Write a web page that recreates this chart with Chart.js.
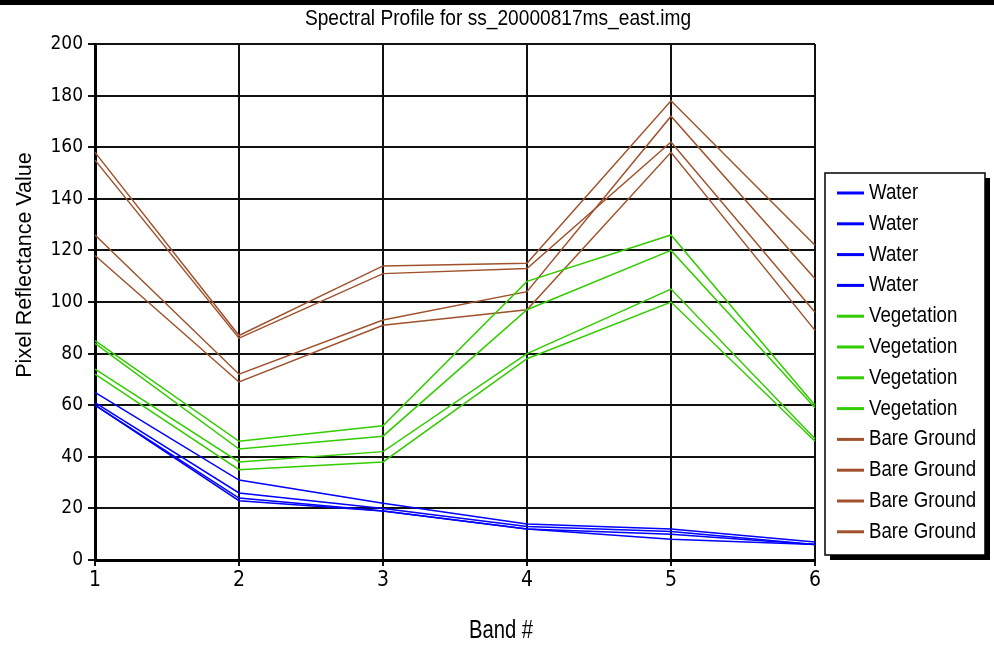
<!DOCTYPE html>
<html>
<head>
<meta charset="utf-8">
<script src="https://cdn.jsdelivr.net/npm/chart.js@4"></script>
<style>
  html, body { margin: 0; padding: 0; background: #fff; }
  #wrap { width: 994px; height: 655px; position: relative; }
</style>
</head>
<body>
<div id="wrap"><canvas id="myChart" width="994" height="655"></canvas></div>
<script>
'use strict';

// band numbers on the x axis
const bands = ['1', '2', '3', '4', '5', '6'];

// pixel values
const water1 = [65, 31, 22, 14, 12, 7];
const water2 = [61, 26, 20, 13, 11, 6];
const water3 = [60, 24, 19, 12, 10, 6];
const water4 = [60, 23, 19, 12, 8, 6];

const veg1 = [85, 46, 52, 108, 126, 60];
const veg2 = [84, 43, 48, 97, 120, 59];
const veg3 = [74, 38, 42, 80, 105, 47];
const veg4 = [72, 35, 38, 78, 100, 46];

const bare1 = [158, 87, 114, 115, 178, 122];
const bare2 = [155, 86, 111, 113, 162, 96];
const bare3 = [126, 72, 93, 104, 172, 109];
const bare4 = [118, 69, 91, 97, 158, 89];

const chartTitle = 'Spectral Profile for ss_20000817ms_east.img';
const xTitle = 'Band #';
const yTitle = 'Pixel Reflectance Value';

const SANS = "'Liberation Sans', Arial, sans-serif";
const COND = "'DejaVu Sans Condensed', 'Liberation Sans', sans-serif";
const BLUE = '#0000ff';
const GREEN = '#33cc00';
const BROWN = '#a0522d';

const mkSet = function (label, data, color) {
    return {
        label: label,
        data: data,
        borderColor: color,
        backgroundColor: color,
        borderWidth: 1.5,
        pointRadius: 0,
        fill: false,
        tension: 0
    };
};

// text squeezed sideways, like the narrow font in the original
const narrowText = function (ctx, text, x, y, size, squeeze, align) {
    ctx.save();
    ctx.font = size + 'px ' + SANS;
    ctx.textBaseline = 'middle';
    ctx.textAlign = align;
    ctx.translate(x, y);
    ctx.scale(squeeze, 1);
    ctx.fillText(text, 0, 0);
    ctx.restore();
};

// titles, background strip and boxed legend
const decor = {
    id: 'decor',
    beforeDraw: function (chart) {
        const ctx = chart.ctx;
        ctx.save();
        ctx.fillStyle = '#fff';
        ctx.fillRect(0, 0, chart.width, chart.height);
        ctx.fillStyle = '#000';
        ctx.fillRect(0, 0, chart.width, 5);
        ctx.restore();
    },
    afterDraw: function (chart) {
        const ctx = chart.ctx;
        ctx.save();
        ctx.fillStyle = '#000';
        narrowText(ctx, chartTitle, 498, 19, 22, 0.87, 'center');
        narrowText(ctx, xTitle, 501, 631, 25, 0.81, 'center');

        ctx.save();
        ctx.font = '21.5px ' + SANS;
        ctx.textBaseline = 'middle';
        ctx.textAlign = 'center';
        ctx.translate(25, 265);
        ctx.rotate(-Math.PI / 2);
        ctx.fillText(yTitle, 0, 0);
        ctx.restore();

        const x0 = 825, y0 = 173, w = 160, h = 382;
        ctx.fillStyle = '#000';
        ctx.fillRect(x0 + 5, y0 + 5, w, h);
        ctx.fillStyle = '#fff';
        ctx.fillRect(x0, y0, w, h);
        ctx.strokeStyle = '#000';
        ctx.lineWidth = 1.5;
        ctx.strokeRect(x0, y0, w, h);
        chart.data.datasets.forEach(function (ds, i) {
            const y = 193 + i * 30.8;
            ctx.strokeStyle = ds.borderColor;
            ctx.lineWidth = 3;
            ctx.beginPath();
            ctx.moveTo(837, y);
            ctx.lineTo(864, y);
            ctx.stroke();
            ctx.fillStyle = '#000';
            narrowText(ctx, ds.label, 869, y, 22, 0.85, 'left');
        });
        ctx.restore();
    }
};

const ctx = document.getElementById('myChart').getContext('2d');
const myChart = new Chart(ctx, {
    type: 'line',
    data: {
        labels: bands,
        datasets: [
            mkSet('Water', water1, BLUE),
            mkSet('Water', water2, BLUE),
            mkSet('Water', water3, BLUE),
            mkSet('Water', water4, BLUE),
            mkSet('Vegetation', veg1, GREEN),
            mkSet('Vegetation', veg2, GREEN),
            mkSet('Vegetation', veg3, GREEN),
            mkSet('Vegetation', veg4, GREEN),
            mkSet('Bare Ground', bare1, BROWN),
            mkSet('Bare Ground', bare2, BROWN),
            mkSet('Bare Ground', bare3, BROWN),
            mkSet('Bare Ground', bare4, BROWN)
        ]
    },
    options: {
        responsive: false,
        animation: false,
        layout: { padding: { left: 0, right: 179, top: 44, bottom: 0 } },
        plugins: {
            legend: { display: false },
            tooltip: { enabled: false },
            title: { display: false }
        },
        scales: {
            x: {
                offset: false,
                afterFit: function (scale) { scale.height = 95; },
                grid: { color: '#111', lineWidth: 2, tickLength: 6 },
                border: { color: '#000', width: 3 },
                ticks: {
                    color: '#000',
                    padding: 2,
                    maxRotation: 0,
                    font: { family: COND, size: 21 }
                }
            },
            y: {
                min: 0,
                max: 200,
                afterFit: function (scale) { scale.width = 95; },
                grid: { color: '#111', lineWidth: 2, tickLength: 7 },
                border: { color: '#000', width: 3 },
                ticks: {
                    stepSize: 20,
                    color: '#000',
                    padding: 5,
                    font: { family: COND, size: 19 }
                }
            }
        }
    },
    plugins: [decor]
});
</script>
</body>
</html>
